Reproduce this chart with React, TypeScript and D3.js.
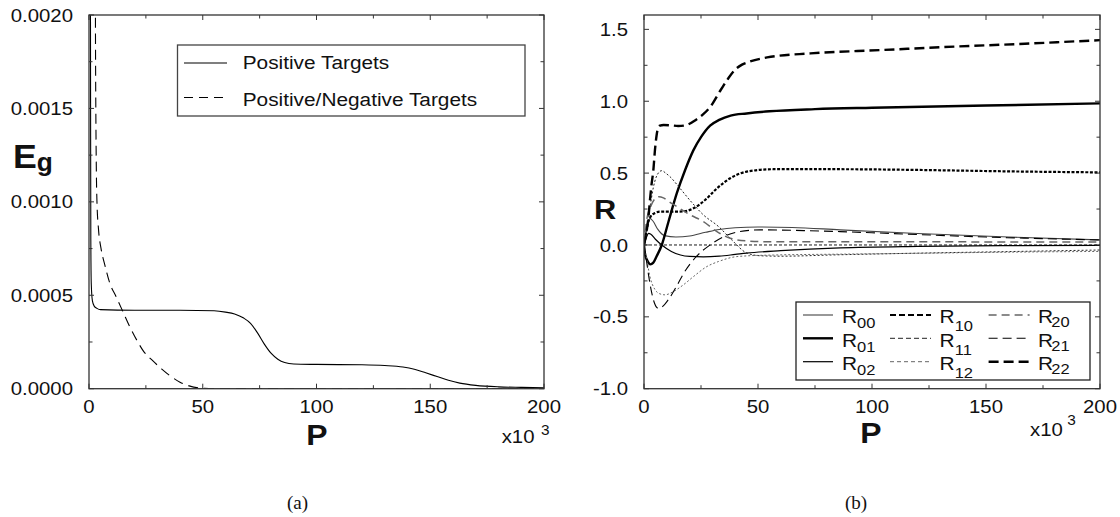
import React from 'react';
import * as d3 from 'd3';

const W = 1120;
const H = 517;
const FONT = '"Liberation Sans", Arial, Helvetica, sans-serif';
const SERIF = '"Liberation Serif", "DejaVu Serif", serif';
const SX = 1.1;

// ---------- Data (P in thousands) ----------
const posTargets: [number, number][] = [
  [0.6, 0.0025], [0.7, 0.0015], [0.8, 0.0008], [1.0, 0.00056], [1.5, 0.00047], [2.3, 0.000442],
  [3.5, 0.00043], [5, 0.000423], [20, 0.00042], [40, 0.00042], [55, 0.000417], [60, 0.00041],
  [64, 0.0004], [68, 0.000378], [71, 0.00035], [74, 0.0003], [77, 0.00024], [80, 0.00019],
  [83, 0.000158], [86, 0.00014], [90, 0.000132], [100, 0.00013], [120, 0.000128], [130, 0.000124],
  [138, 0.000116], [143, 0.000104], [148, 0.000085], [153, 0.000065], [158, 0.000045],
  [163, 0.00003], [170, 0.000018], [180, 0.00001], [190, 0.000007], [200, 0.000005],
];
const posNegTargets: [number, number][] = [
  [2.75, 0.0025], [2.85, 0.0019], [3.0, 0.0015], [3.2, 0.0012], [3.5, 0.001], [4.2, 0.00085],
  [5.3, 0.00075], [7, 0.00066], [9, 0.00057], [12, 0.00049], [15, 0.00041], [18, 0.00033],
  [21, 0.00026], [24, 0.0002], [28, 0.00015], [32, 0.000105], [36, 0.000066], [40, 0.000035],
  [44, 0.000015], [48, 0.000005], [55, 0.000001], [100, 0], [200, 0],
];

const R00: [number, number][] = [
  [0, 0], [1, 0.1], [2.6, 0.185], [4, 0.165], [6, 0.11], [9, 0.065], [14, 0.055], [20, 0.062],
  [27, 0.088], [33, 0.108], [40, 0.12], [50, 0.125], [65, 0.122], [86, 0.105], [120, 0.08],
  [160, 0.055], [200, 0.035],
];
const R01: [number, number][] = [
  [0, 0], [0.4, -0.06], [1.5, -0.11], [2.8, -0.135], [4, -0.125], [5.5, -0.08], [7.8, 0],
  [10.7, 0.16], [14.4, 0.36], [18, 0.52], [21.7, 0.66], [25, 0.75], [29, 0.83], [33, 0.87],
  [38, 0.9], [45, 0.915], [55, 0.93], [75, 0.945], [100, 0.955], [150, 0.97], [200, 0.985],
];
const R02: [number, number][] = [
  [0, 0], [1, 0.05], [2, 0.08], [3, 0.075], [5, 0.04], [7.8, 0], [12, -0.045], [16, -0.07],
  [20, -0.08], [26, -0.083], [33, -0.078], [40, -0.066], [45, -0.057], [60, -0.04], [86, -0.02],
  [120, -0.01], [160, -0.005], [200, -0.003],
];
const R10: [number, number][] = [
  [0, 0], [1, 0.09], [1.9, 0.16], [3, 0.2], [4.8, 0.222], [7, 0.232], [14, 0.232], [18, 0.235],
  [21.7, 0.255], [26.8, 0.313], [32, 0.394], [37.8, 0.464], [45, 0.51], [56.7, 0.527], [86, 0.527],
  [120, 0.522], [160, 0.512], [200, 0.505],
];
const R11: [number, number][] = [
  [0, 0], [1, 0.1], [1.9, 0.2], [3, 0.3], [4.1, 0.4], [5.3, 0.47], [6.5, 0.505], [7.8, 0.517],
  [9.5, 0.5], [11.4, 0.475], [15.8, 0.394], [20.2, 0.31], [26, 0.21], [32.7, 0.128], [38.5, 0.035],
  [45, -0.055], [51, -0.075], [60, -0.078], [86, -0.068], [120, -0.057], [160, -0.046], [200, -0.035],
];
const R12: [number, number][] = [
  [0, 0], [1, -0.08], [2.6, -0.22], [4.8, -0.31], [7, -0.34], [9.2, -0.347], [12.9, -0.324],
  [17.3, -0.277], [21.7, -0.22], [27.6, -0.15], [32.7, -0.115], [39, -0.085], [45, -0.076],
  [56.8, -0.07], [86, -0.064], [120, -0.058], [160, -0.05], [200, -0.045],
];
const R20: [number, number][] = [
  [0, 0], [1.2, 0.175], [3, 0.27], [5, 0.325], [6.5, 0.336], [8.5, 0.328], [11, 0.3], [14.4, 0.267],
  [20.2, 0.21], [26, 0.163], [32, 0.093], [37.8, 0.047], [45, 0.028], [56.8, 0.022], [86, 0.022],
  [120, 0.022], [160, 0.021], [200, 0.02],
];
const R21: [number, number][] = [
  [0, 0], [1, -0.1], [2, -0.21], [3.1, -0.31], [4.5, -0.4], [6.2, -0.44], [8, -0.43], [10.7, -0.38],
  [14.9, -0.27], [17.3, -0.2], [23, -0.08], [29, 0], [35, 0.058], [42, 0.093], [51, 0.105],
  [70, 0.1], [86, 0.093], [100, 0.085], [150, 0.055], [200, 0.035],
];
const R22: [number, number][] = [
  [0, 0], [1, 0.08], [2, 0.2], [2.6, 0.31], [3.3, 0.42], [4.1, 0.52], [4.8, 0.66], [5.5, 0.76],
  [6.2, 0.815], [7, 0.83], [8.6, 0.835], [12, 0.832], [15, 0.828], [18, 0.832], [22.7, 0.87],
  [26, 0.91], [29, 0.96], [33.7, 1.08], [37, 1.16], [40, 1.22], [43, 1.255], [46.2, 1.275],
  [54, 1.305], [73, 1.333], [104, 1.356], [136, 1.38], [167, 1.4], [200, 1.425],
];

const xTickValues = [0, 50, 100, 150, 200];
const xTickLabels = ['0', '50', '100', '150', '200'];
const leftYTickValues = [0, 0.0005, 0.001, 0.0015, 0.002];
const leftYTickLabels = ['0.0000', '0.0005', '0.0010', '0.0015', '0.0020'];
const rightYTickValues = [-1, -0.5, 0, 0.5, 1, 1.5];
const rightYTickLabels = ['-1.0', '-0.5', '0.0', '0.5', '1.0', '1.5'];

const leftLegend = ['Positive Targets', 'Positive/Negative Targets'];

type Style = { w: number; dash: string; color: string };
const rSeries: { name: string; sub: string; data: [number, number][]; st: Style }[] = [
  { name: 'R', sub: '00', data: R00, st: { w: 1.1, dash: '', color: '#444' } },
  { name: 'R', sub: '01', data: R01, st: { w: 2.4, dash: '', color: '#000' } },
  { name: 'R', sub: '02', data: R02, st: { w: 1.2, dash: '', color: '#000' } },
  { name: 'R', sub: '10', data: R10, st: { w: 2.2, dash: '3,1.6', color: '#000' } },
  { name: 'R', sub: '11', data: R11, st: { w: 1.0, dash: '2,2', color: '#222' } },
  { name: 'R', sub: '12', data: R12, st: { w: 1.0, dash: '2,2', color: '#666' } },
  { name: 'R', sub: '20', data: R20, st: { w: 1.5, dash: '8,5', color: '#666' } },
  { name: 'R', sub: '21', data: R21, st: { w: 1.1, dash: '9,5', color: '#000' } },
  { name: 'R', sub: '22', data: R22, st: { w: 2.4, dash: '10,5', color: '#000' } },
];
const legendDash: Record<string, string> = { '10': '6,3', '11': '5,3', '12': '4,3' };

// ---------- geometry ----------
const L = { x0: 89, x1: 544, y0: 15, y1: 388.7 };
const Rp = { x0: 644, x1: 1100, y0: 15, y1: 388.7 };

function T(props: {
  x: number; y: number; children: React.ReactNode; size?: number; anchor?: string;
  weight?: string; sx?: number; family?: string; fill?: string;
}) {
  const { x, y, children, size = 18.5, anchor = 'start', weight = 'normal', sx = SX, family = FONT, fill = '#111' } = props;
  return (
    <text transform={`translate(${x},${y}) scale(${sx},1)`} fontSize={size} textAnchor={anchor as any}
      fontWeight={weight} fontFamily={family} fill={fill}>{children}</text>
  );
}

function Frame({ p, y, yTicks, yLabels, yMinorStep, yDomain }: any) {
  const x = d3.scaleLinear().domain([0, 200]).range([p.x0, p.x1]);
  const xt = d3.range(0, 200.001, 25);
  const yt = d3.range(yDomain[0], yDomain[1] + yMinorStep * 0.01, yMinorStep);
  const isMajorX = (v: number) => Math.abs(v / 50 - Math.round(v / 50)) < 1e-6;
  const isMajorY = (v: number) => yTicks.some((t: number) => Math.abs(t - v) < yMinorStep * 0.01);
  const maj = 5, min = 3.5;
  const stroke = '#333';
  return (
    <g>
      <rect x={p.x0} y={p.y0} width={p.x1 - p.x0} height={p.y1 - p.y0} fill="none" stroke={stroke} strokeWidth={1.3} />
      {xt.map((v: number, i: number) => {
        const len = isMajorX(v) ? maj : min;
        return (
          <g key={'x' + i}>
            <line x1={x(v)} x2={x(v)} y1={p.y1} y2={p.y1 - len} stroke={stroke} strokeWidth={1} />
            <line x1={x(v)} x2={x(v)} y1={p.y0} y2={p.y0 + len} stroke={stroke} strokeWidth={1} />
          </g>
        );
      })}
      {yt.map((v: number, i: number) => {
        const len = isMajorY(v) ? maj : min;
        return (
          <g key={'y' + i}>
            <line x1={p.x0} x2={p.x0 + len} y1={y(v)} y2={y(v)} stroke={stroke} strokeWidth={1} />
            <line x1={p.x1} x2={p.x1 - len} y1={y(v)} y2={y(v)} stroke={stroke} strokeWidth={1} />
          </g>
        );
      })}
      {xTickValues.map((v, i) => (
        <T key={'xl' + i} x={x(v)} y={413} anchor="middle">{xTickLabels[i]}</T>
      ))}
      {yTicks.map((v: number, i: number) => (
        <T key={'yl' + i} x={p.x0 - 16} y={y(v) + 6.6} anchor="end">{yLabels[i]}</T>
      ))}
    </g>
  );
}

export default function App() {
  const xL = d3.scaleLinear().domain([0, 200]).range([L.x0, L.x1]);
  const yL = d3.scaleLinear().domain([0, 0.002]).range([L.y1, L.y0]);
  const xR = d3.scaleLinear().domain([0, 200]).range([Rp.x0, Rp.x1]);
  const yR = d3.scaleLinear().domain([-1, 1.6]).range([Rp.y1, Rp.y0]);

  const lineL = d3.line<[number, number]>().x(d => xL(d[0])).y(d => yL(d[1])).curve(d3.curveMonotoneX);
  const lineR = d3.line<[number, number]>().x(d => xR(d[0])).y(d => yR(d[1])).curve(d3.curveMonotoneX);

  const legCols = [
    { sx0: 803, sx1: 833, tx: 842, subDy: 5, subDx: 0 },
    { sx0: 890, sx1: 931, tx: 939.6, subDy: 8, subDx: 0 },
    { sx0: 988.6, sx1: 1029.6, tx: 1037.9, subDy: 4, subDx: -1.5 },
  ];
  const legRowsY = [315, 338.3, 361.7];
  const legRowsBase = [323, 346.5, 370];

  return (
    <svg width={W} height={H} style={{ position: 'absolute', left: 0, top: 0, background: '#fff' }}
      xmlns="http://www.w3.org/2000/svg">
      <defs>
        <clipPath id="clipL"><rect x={L.x0} y={L.y0} width={L.x1 - L.x0} height={L.y1 - L.y0} /></clipPath>
        <clipPath id="clipR"><rect x={Rp.x0} y={Rp.y0} width={Rp.x1 - Rp.x0} height={Rp.y1 - Rp.y0} /></clipPath>
      </defs>
      <rect x={0} y={0} width={W} height={H} fill="#fff" />

      {/* ---------- Left panel ---------- */}
      <g clipPath="url(#clipL)">
        <path d={lineL(posTargets) || ''} fill="none" stroke="#000" strokeWidth={1.1} />
        <path d={lineL(posNegTargets) || ''} fill="none" stroke="#000" strokeWidth={1.1} strokeDasharray="10,6" />
      </g>
      <Frame p={L} y={yL} yTicks={leftYTickValues} yLabels={leftYTickLabels} yMinorStep={0.00025} yDomain={[0, 0.002]} />
      <rect x={177.5} y={45} width={347.5} height={71} fill="#fff" stroke="#444" strokeWidth={1.3} />
      <line x1={184} x2={227} y1={63} y2={63} stroke="#000" strokeWidth={1.1} />
      <line x1={184} x2={227} y1={97.5} y2={97.5} stroke="#000" strokeWidth={1.1} strokeDasharray="9,6" />
      <T x={242.7} y={69.3} size={18.6} sx={1.12}>{leftLegend[0]}</T>
      <T x={242.7} y={106} size={18.6} sx={1.12}>{leftLegend[1]}</T>
      <T x={13} y={168} size={34} weight="bold" sx={1.05}>E<tspan fontSize={25} dy={3}>g</tspan></T>
      <T x={317} y={445} size={29} weight="bold" anchor="middle">P</T>
      <T x={501.7} y={443}>x10<tspan fontSize={14} dx={6} dy={-8}>3</tspan></T>
      <T x={287} y={509} size={19} sx={1} family={SERIF}>(a)</T>

      {/* ---------- Right panel ---------- */}
      <g clipPath="url(#clipR)">
        <line x1={xR(0)} x2={xR(200)} y1={yR(0)} y2={yR(0)} stroke="#000" strokeWidth={0.9} strokeDasharray="3,2" />
        {rSeries.map((s, i) => (
          <path key={i} d={lineR(s.data) || ''} fill="none" stroke={s.st.color} strokeWidth={s.st.w}
            strokeDasharray={s.st.dash || undefined} />
        ))}
      </g>
      <Frame p={Rp} y={yR} yTicks={rightYTickValues} yLabels={rightYTickLabels} yMinorStep={0.25} yDomain={[-1, 1.6]} />
      <rect x={796} y={302} width={294} height={78} fill="#fff" stroke="#222" strokeWidth={1.3} />
      {rSeries.map((s, i) => {
        const col = legCols[Math.floor(i / 3)];
        const row = i % 3;
        const dash = legendDash[s.sub] || s.st.dash;
        return (
          <g key={'lg' + i}>
            <line x1={col.sx0} x2={col.sx1} y1={legRowsY[row]} y2={legRowsY[row]} stroke={s.st.color}
              strokeWidth={s.st.w} strokeDasharray={dash || undefined} />
            <T x={col.tx} y={legRowsBase[row]} size={19}>
              {s.name}<tspan fontSize={15} dx={col.subDx} dy={col.subDy}>{s.sub}</tspan>
            </T>
          </g>
        );
      })}
      <T x={605} y={219} size={28} weight="bold" anchor="middle">R</T>
      <T x={871} y={443} size={29} weight="bold" anchor="middle">P</T>
      <T x={1030} y={436}>x10<tspan fontSize={14} dx={4} dy={-11}>3</tspan></T>
      <T x={845} y={509} size={19} sx={1} family={SERIF}>(b)</T>
    </svg>
  );
}
